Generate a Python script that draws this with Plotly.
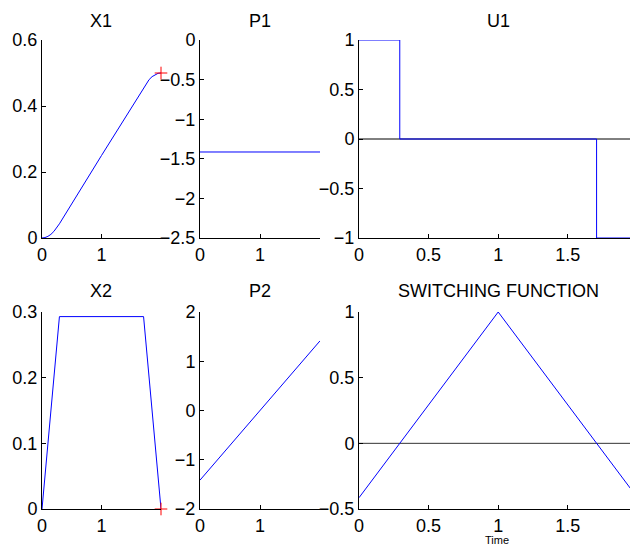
import plotly.graph_objects as go

W, H = 630, 546

# ---- data ----
t_x1 = [0, 0.05, 0.1, 0.15, 0.2, 0.25, 0.293, 1.0, 1.707, 1.75, 1.8, 1.85, 1.9, 1.95, 2.0]
x1 = [0, 0.0013, 0.005, 0.011, 0.02, 0.031, 0.043, 0.25, 0.457, 0.469, 0.48, 0.489, 0.495, 0.499, 0.5]

t_x2 = [0, 0.293, 1.707, 2.0]
x2 = [0, 0.293, 0.293, 0]

t_p1 = [0, 2.0]
p1 = [-1.414, -1.414]

t_p2 = [0, 2.0]
p2 = [-1.414, 1.414]

t_u1 = [0, 0.293, 0.293, 1.707, 1.707, 2.0]
u1 = [1, 1, 0, 0, -1, -1]

t_sf = [0, 1.0, 2.0]
sf = [-0.414, 1.0, -0.414]

t_end = [2.0]
x1_end = [0.5]
x2_end = [0.0]

zero_t = [0, 2.0]
zero_v = [0, 0]

titles = ["X1", "P1", "U1", "X2", "P2", "SWITCHING FUNCTION"]
xlabel = "Time"

FONT = "Arial, Liberation Sans, sans-serif"
BLUE = "#0000FF"

def px_x(p):
    return p / W

def px_y(p):
    return 1 - p / H

cols = [(42, 161), (200, 320), (359, 630)]
rows = [(40, 238), (312, 509)]

fig = go.Figure()

axes_cfg = [
    # (row, col, xrange, xticks, yrange, yticks)
    (0, 0, [0, 2.0], [0, 1], [0, 0.6], [0, 0.2, 0.4, 0.6]),
    (0, 1, [0, 2.0], [0, 1], [-2.5, 0], [-2.5, -2, -1.5, -1, -0.5, 0]),
    (0, 2, [0, 1.947], [0, 0.5, 1, 1.5], [-1, 1], [-1, -0.5, 0, 0.5, 1]),
    (1, 0, [0, 2.0], [0, 1], [0, 0.3], [0, 0.1, 0.2, 0.3]),
    (1, 1, [0, 2.0], [0, 1], [-2, 2], [-2, -1, 0, 1, 2]),
    (1, 2, [0, 1.947], [0, 0.5, 1, 1.5], [-0.5, 1], [-0.5, 0, 0.5, 1]),
]

layout = {}
for i, (r, c, xr, xt, yr, yt) in enumerate(axes_cfg):
    n = "" if i == 0 else str(i + 1)
    x0, x1p = cols[c]
    y0, y1p = rows[r]
    common = dict(
        showline=True, linecolor="black", linewidth=1, mirror=False,
        showgrid=False, zeroline=False, ticks="inside", ticklen=4,
        tickcolor="black", tickfont=dict(family=FONT, size=18, color="black"),
        tickmode="array", automargin=False,
    )
    layout["xaxis" + n] = dict(
        common, domain=[px_x(x0), min(1.0, px_x(x1p))], range=xr, tickvals=xt,
        anchor="y" + n,
    )
    layout["yaxis" + n] = dict(
        common, domain=[px_y(y1p), px_y(y0)], range=yr, tickvals=yt,
        anchor="x" + n, ticklabelstandoff=0,
    )

def add(x, y, i, **kw):
    n = "" if i == 0 else str(i + 1)
    fig.add_trace(go.Scatter(x=x, y=y, xaxis="x" + n, yaxis="y" + n,
                             showlegend=False, hoverinfo="skip", **kw))

line = dict(color=BLUE, width=1)
add(t_x1, x1, 0, mode="lines", line=line)
add(t_end, x1_end, 0, mode="markers", cliponaxis=False,
    marker=dict(symbol="cross-thin", size=9, line=dict(color="red", width=1)))
add(t_p1, p1, 1, mode="lines", line=line)
add(zero_t, zero_v, 2, mode="lines", line=dict(color="black", width=1))
add(t_u1, u1, 2, mode="lines", line=line)
add(t_x2, x2, 3, mode="lines", line=line)
add(t_end, x2_end, 3, mode="markers", cliponaxis=False,
    marker=dict(symbol="cross-thin", size=9, line=dict(color="red", width=1)))
add(t_p2, p2, 4, mode="lines", line=line)
add(zero_t, zero_v, 5, mode="lines", line=dict(color="#333333", width=1))
add(t_sf, sf, 5, mode="lines", line=line)

title_pos = [(101, 21), (260, 21), (498, 21), (101, 291), (260, 291), (498, 291)]
anns = []
for txt, (ax, ay) in zip(titles, title_pos):
    anns.append(dict(text=txt, x=px_x(ax), y=px_y(ay), xref="paper", yref="paper",
                     xanchor="center", yanchor="middle", showarrow=False,
                     font=dict(family=FONT, size=18, color="black")))
anns.append(dict(text=xlabel, x=px_x(497), y=px_y(540), xref="paper", yref="paper",
                 xanchor="center", yanchor="middle", showarrow=False,
                 font=dict(family=FONT, size=11, color="black")))

fig.update_layout(
    template="none",
    width=W, height=H, margin=dict(l=0, r=0, t=0, b=0, autoexpand=False),
    paper_bgcolor="white", plot_bgcolor="white",
    annotations=anns, **layout,
)

fig.write_html("out.html",
               config={"displayModeBar": False},
               post_script="document.body.style.margin='0px';document.body.style.overflow='hidden';")
